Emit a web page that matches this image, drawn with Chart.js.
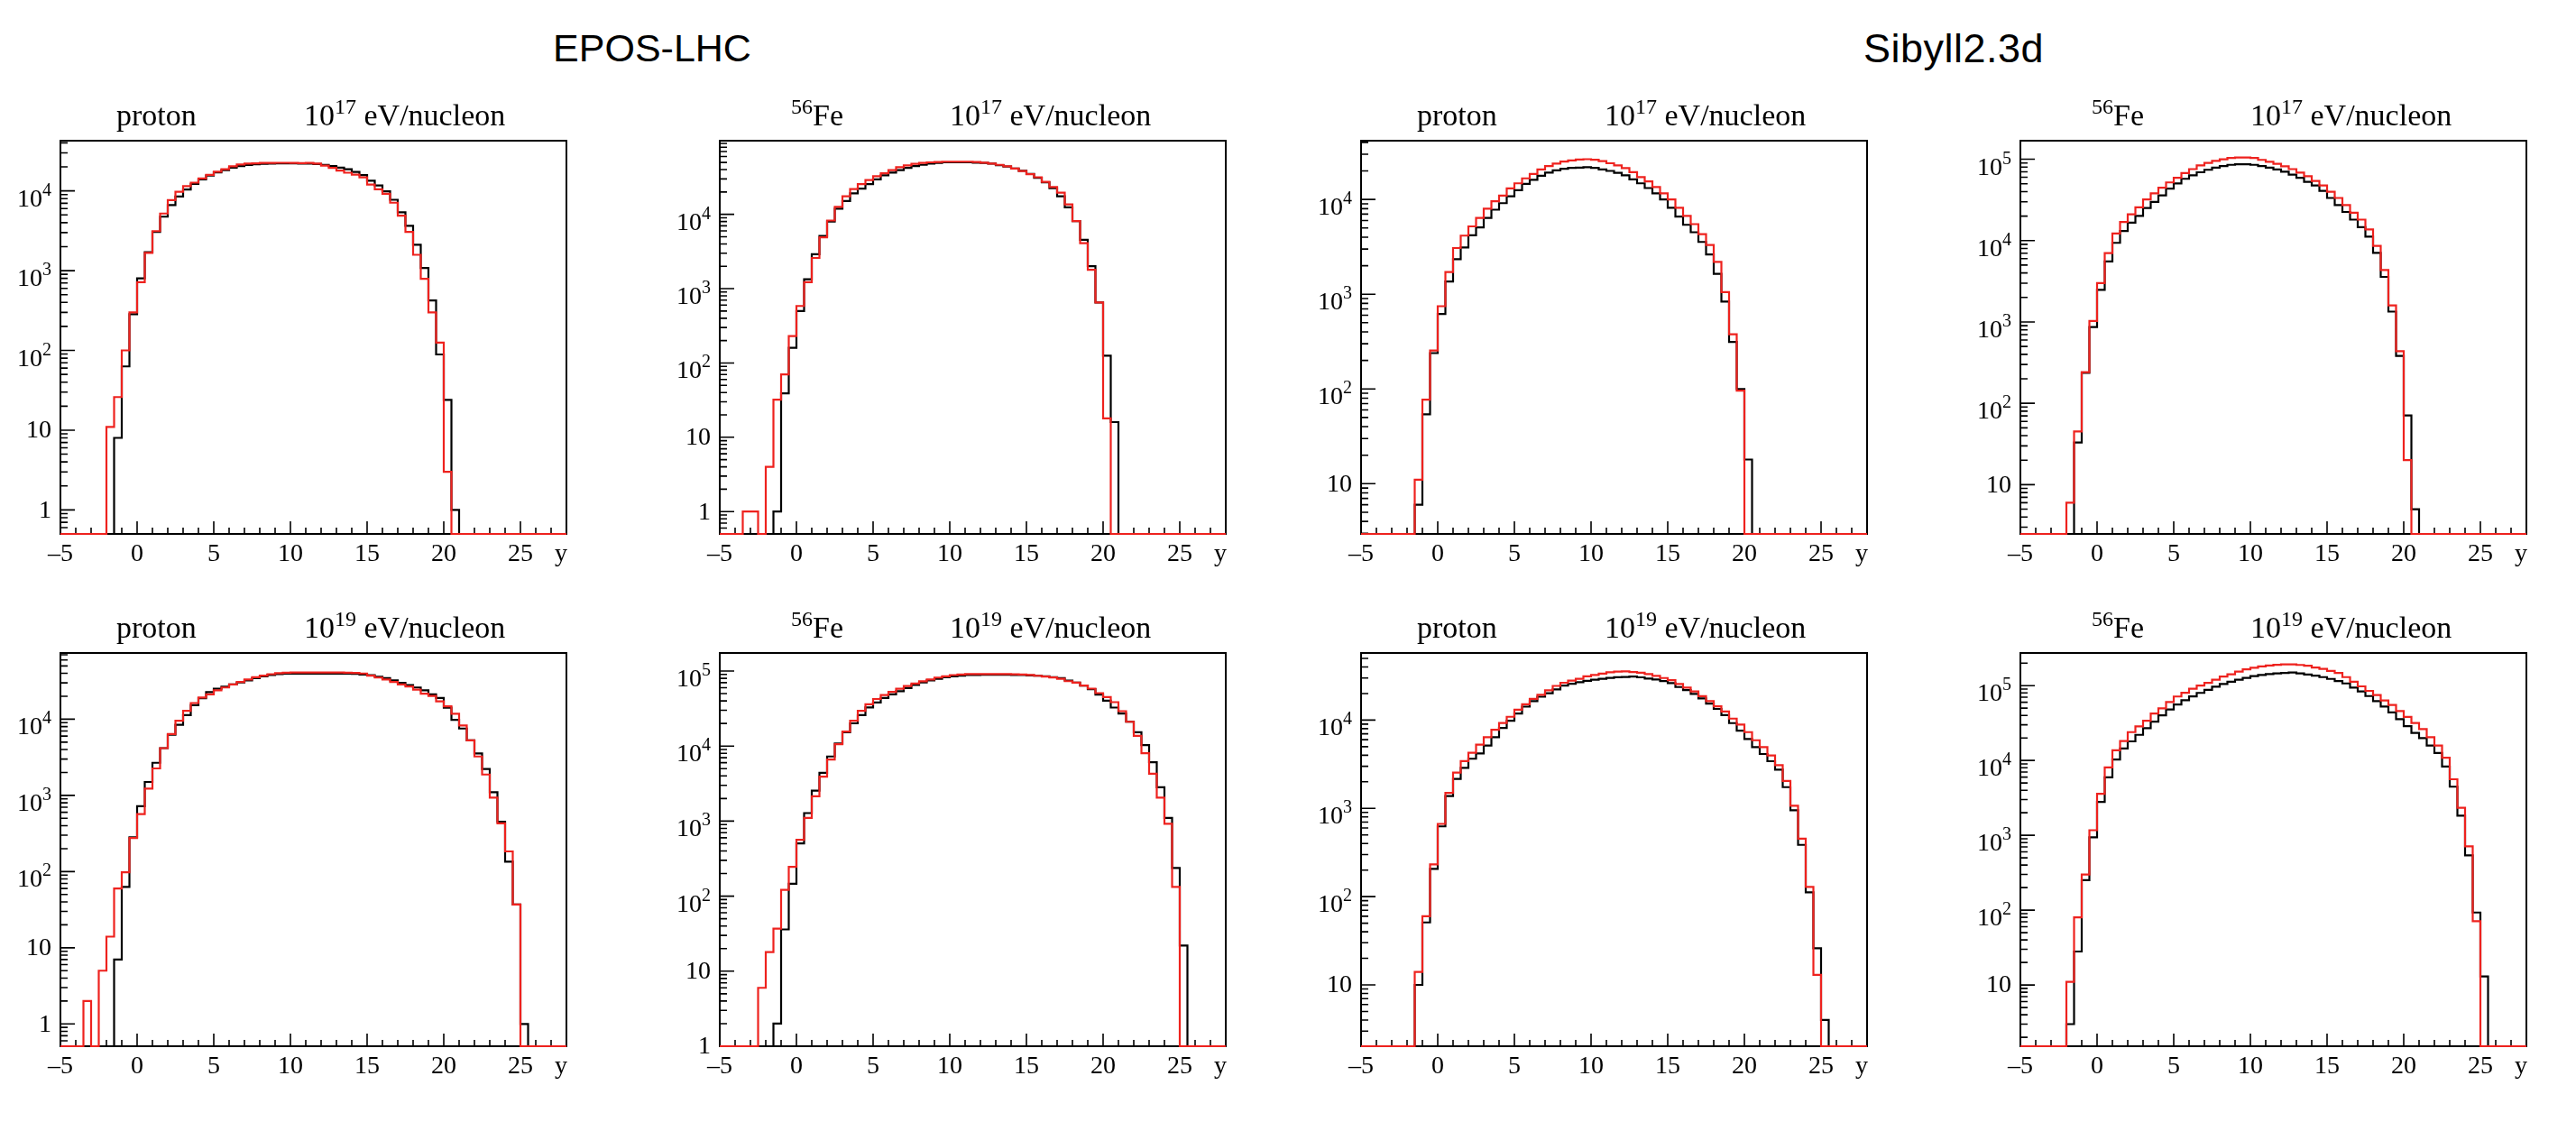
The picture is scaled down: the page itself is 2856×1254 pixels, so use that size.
<!DOCTYPE html>
<html>
<head>
<meta charset="utf-8">
<script src="https://cdn.jsdelivr.net/npm/chart.js@4.4.1/dist/chart.umd.min.js"></script>
<style>
html,body{margin:0;padding:0;background:#fff;}
body{width:2856px;height:1254px;position:relative;overflow:hidden;}
.hdr{position:absolute;font-family:"Liberation Sans",Arial,Helvetica,sans-serif;font-size:43px;color:#000;transform:translateX(-50%);white-space:nowrap;line-height:1;}
canvas{position:absolute;}
</style>
</head>
<body>
<div class="hdr" style="left:723px;top:32px">EPOS-LHC</div>
<div class="hdr" style="left:2166px;top:31px;font-size:45px;letter-spacing:0.5px">Sibyll2.3d</div>
<script>
// ---------------- DATA ----------------
// bin edges of rapidity y (66 bins of width 0.5 from -5 to 28)
const binEdges = [-5,-4.5,-4,-3.5,-3,-2.5,-2,-1.5,-1,-0.5,0,0.5,1,1.5,2,2.5,3,3.5,4,4.5,5,5.5,6,6.5,7,7.5,8,8.5,9,9.5,10,10.5,11,11.5,12,12.5,13,13.5,14,14.5,15,15.5,16,16.5,17,17.5,18,18.5,19,19.5,20,20.5,21,21.5,22,22.5,23,23.5,24,24.5,25,25.5,26,26.5,27,27.5,28];
const xTickLabels = [-5,0,5,10,15,20,25];

// EPOS-LHC, proton, 1e17 eV/nucleon
const eposP17Black = [0,0,0,0,0,0,0,8,63,285,800,1700,3050,4750,6650,8500,10400,12200,13900,15600,17100,18200,19500,20500,21200,21600,21900,22000,22100,22100,22100,22000,22000,21700,21200,20500,19600,18700,17300,15800,13400,11700,9900,7740,5380,3640,2110,1080,424,89,24,1,0,0,0,0,0,0,0,0,0,0,0,0,0,0];
const eposP17Red   = [0,0,0,0,0,0,11,26,100,300,715,1670,3130,5200,7650,9750,11500,12700,14300,15900,17400,18700,20300,21400,22000,22200,22400,22400,22500,22500,22400,22300,22400,22000,20800,19400,18000,16900,16000,14800,12000,10500,9220,7110,4900,3060,1580,791,299,125,3,0,0,0,0,0,0,0,0,0,0,0,0,0,0,0];
// EPOS-LHC, 56Fe, 1e17 eV/nucleon
const eposFe17Black = [0,0,0,0,0,0,0,1,39,160,500,1340,2900,5110,8020,11900,15100,19200,22200,25600,29500,33500,36500,39400,42200,44700,46400,48300,49200,50100,50100,50100,50100,49600,49200,48300,46000,44000,41500,38500,35000,31000,27000,22500,17500,12400,8100,4550,2010,650,125,16,0,0,0,0,0,0,0,0,0,0,0,0,0,0];
const eposFe17Red   = [0,0,0,1,1,0,4,32,70,230,585,1220,2590,4920,8260,12600,17500,21900,25600,29000,32600,35800,39400,43000,45600,47800,49200,50100,50600,51200,51200,51200,51200,50600,49600,48300,46400,44300,41400,38300,34800,31600,27400,23300,19600,13600,8100,4100,1790,650,18,0,0,0,0,0,0,0,0,0,0,0,0,0,0,0];
// Sibyll2.3d, proton, 1e17 eV/nucleon
const sibP17Black = [0,0,0,0,0,0,0,6,54,239,618,1360,2340,3110,4180,5080,6370,7800,9140,10800,12500,14600,16100,17800,19200,20300,21100,21500,21700,21900,21500,20700,20000,19100,18000,16300,14800,13200,11600,10000,8170,6610,5400,4510,3560,2630,1640,836,314,100,18,0,0,0,0,0,0,0,0,0,0,0,0,0,0,0];
const sibP17Red   = [0,0,0,0,0,0,0,11,77,254,747,1710,3070,4150,5200,6370,7980,9560,11000,13100,14800,16700,18600,20700,22500,23900,25100,25800,26400,26600,26200,25400,24100,22900,21400,19400,17200,15500,13500,11600,10000,8170,6710,5490,4300,3310,2190,1050,378,96,0,0,0,0,0,0,0,0,0,0,0,0,0,0,0,0];
// Sibyll2.3d, 56Fe, 1e17 eV/nucleon
const sibFe17Black = [0,0,0,0,0,0,0,33,237,865,2480,5550,9380,13100,16600,20100,25100,29900,35900,43500,50500,57500,63400,69200,74200,78900,82500,85400,86900,86900,85400,82500,78900,74800,70400,64600,59100,52800,47500,40900,33400,27300,22500,18100,14600,11200,7080,3580,1340,383,71,5,0,0,0,0,0,0,0,0,0,0,0,0,0,0];
const sibFe17Red   = [0,0,0,0,0,0,6,45,241,1030,3000,7030,12200,16900,21000,25700,32000,38100,44700,51900,59100,67500,75600,84000,90000,95700,100000,103600,105000,105000,103600,98300,93200,87700,81700,75600,68600,61700,54200,47500,39900,33400,27300,22000,18100,13700,8590,4340,1600,437,20,0,0,0,0,0,0,0,0,0,0,0,0,0,0,0];
// EPOS-LHC, proton, 1e19 eV/nucleon
const eposP19Black = [0,0,0,0,0,0,0,7,63,281,720,1500,2680,4170,6250,8450,11300,15300,18900,22700,25100,26800,28600,30300,32400,34600,36600,38000,39000,39600,39600,39600,39600,39600,39600,39600,39600,39600,39400,38700,37800,36200,34600,32400,30000,28100,26100,24000,21200,19000,14200,9800,7550,5270,3560,2220,1100,450,135,37,1,0,0,0,0,0];
const eposP19Red   = [0,0,0,2,0,5,14,60,98,276,569,1230,2260,4170,6370,9540,12900,16300,19300,21200,24000,26100,28600,30900,33300,35600,37300,39000,40300,40800,41000,41000,41000,41000,41000,41000,41000,40800,40500,39800,37300,35200,33300,30900,28600,26900,24400,21600,20200,17200,14800,11800,8280,5270,3240,1880,936,430,184,37,0,0,0,0,0,0];
// EPOS-LHC, 56Fe, 1e19 eV/nucleon
const eposFe19Black = [0,0,0,0,0,0,0,2,36,146,504,1280,2550,4390,7270,10800,15300,20100,25800,32800,38200,43700,48900,53800,59200,65200,70300,75100,78800,82600,85000,86700,88300,88800,89000,89000,89000,89000,88800,88300,87500,86500,85000,83000,80400,74800,70000,63900,57200,48500,40300,32600,27100,21100,15300,10300,6080,2830,1100,237,22,0,0,0,0,0];
const eposFe19Red   = [0,0,0,0,0,6,18,37,121,246,565,1100,2140,3910,6600,10600,15600,21800,29500,36100,42400,48000,52800,58100,63300,68200,73000,77300,81800,85000,88300,90000,90900,90900,90900,90900,90900,90900,90500,90000,88500,86500,84500,82000,79000,73300,70000,63900,58300,50800,45000,38500,29200,21100,13700,8020,4290,2050,920,133,0,0,0,0,0,0];
// Sibyll2.3d, proton, 1e19 eV/nucleon
const sibP19Black = [0,0,0,0,0,0,0,10,51,206,625,1380,2160,2870,3650,4200,5140,6400,8160,9840,11900,14200,16400,18400,20200,22300,24600,25800,26900,27800,28700,29400,30100,30600,30800,31200,30500,29600,28900,27700,26300,23700,21900,19800,17600,15400,13400,11400,9250,7600,6110,4940,4130,3420,2750,1740,953,386,112,26,4,0,0,0,0,0];
const sibP19Red   = [0,0,0,0,0,0,0,14,60,232,667,1500,2540,3430,4270,5270,6400,7770,9290,10900,13100,15100,17400,19300,21800,24400,26500,28000,29400,31400,32400,33700,34800,35400,35700,35100,34500,33200,31700,30000,28400,25700,23400,21100,18700,16400,14300,12500,10400,8910,7310,5910,4940,3970,3090,2050,1070,453,129,13,0,0,0,0,0,0];
// Sibyll2.3d, 56Fe, 1e19 eV/nucleon
const sibFe19Black = [0,0,0,0,0,0,3,28,251,940,2800,5950,10300,14500,18000,22000,27000,33000,40000,48000,56000,64000,72000,80000,88000,97000,105000,113000,120000,127000,134000,139000,143000,146000,148000,150000,146000,141000,136000,130000,123000,115000,107000,94300,83500,72600,62200,52600,43800,35700,28800,23300,19900,15800,12600,8280,4460,1830,541,93,13,0,0,0,0,0];
const sibFe19Red   = [0,0,0,0,0,0,11,80,299,1170,3580,8080,13700,18200,23900,28600,34000,42300,49800,60300,71600,80200,90800,100000,109000,120000,132000,142000,154000,165000,173000,181000,186000,190000,192000,192000,189000,184000,175000,167000,157000,148000,130000,113000,97800,85100,74700,63300,55100,45800,38100,31600,26300,20500,15800,10900,5610,2330,713,71,0,0,0,0,0,0];

// panel descriptions (row-major: top row 1e17, bottom row 1e19)
const panelBlack = [eposP17Black, eposFe17Black, sibP17Black, sibFe17Black, eposP19Black, eposFe19Black, sibP19Black, sibFe19Black];
const panelRed   = [eposP17Red,   eposFe17Red,   sibP17Red,   sibFe17Red,   eposP19Red,   eposFe19Red,   sibP19Red,   sibFe19Red];
const panelParticle = ['proton','Fe','proton','Fe','proton','Fe','proton','Fe'];
const panelEnergyExp = ['17','17','17','17','19','19','19','19'];
const panelYMin = [0.5, 0.5, 2.95, 2.48, 0.51, 1, 2.02, 1.52];
const panelYMax = [42600, 98000, 41700, 169000, 74000, 174000, 57600, 273000];

// ---------------- LAYOUT / STYLE ----------------
const FRAME_LEFT = [67, 798, 1509, 2240];
const FRAME_TOP = [156, 724];
const FRAME_W = 561, FRAME_H = 436;
const PAD = {left: 66, top: 90, right: 45, bottom: 50};
const SERIF = '"Liberation Serif","Times New Roman",Times,serif';
const RED = 'rgb(238,34,30)';

function histPoints(vals, ymin) {
  const pts = [];
  for (let i = 0; i < vals.length; i++) {
    pts.push({x: binEdges[i], y: vals[i] > 0 ? vals[i] : ymin});
  }
  const last = vals[vals.length - 1];
  pts.push({x: binEdges[binEdges.length - 1], y: last > 0 ? last : ymin});
  return pts;
}

const rootStyle = {
  id: 'rootStyle',
  beforeDatasetsDraw(chart, args, opts) {
    const ctx = chart.ctx, a = chart.chartArea;
    const xs = chart.scales.x, ys = chart.scales.y;
    ctx.save();
    ctx.fillStyle = '#000';
    ctx.strokeStyle = '#000';
    // frame
    ctx.lineWidth = 2;
    ctx.strokeRect(a.left, a.top, a.right - a.left, a.bottom - a.top);
    // ticks
    ctx.lineWidth = 1.6;
    ctx.beginPath();
    for (let v = Math.ceil(xs.min); v <= xs.max; v++) {
      const px = xs.getPixelForValue(v);
      const len = (v % 5 === 0) ? 14 : 7;
      ctx.moveTo(px, a.bottom);
      ctx.lineTo(px, a.bottom - len);
    }
    const lo = Math.floor(Math.log10(ys.min)), hi = Math.ceil(Math.log10(ys.max));
    for (let e = lo; e <= hi; e++) {
      for (let m = 1; m <= 9; m++) {
        const val = m * Math.pow(10, e);
        if (val < ys.min * 0.9999 || val > ys.max) continue;
        const py = ys.getPixelForValue(val);
        const len = m === 1 ? 16 : 8;
        ctx.moveTo(a.left, py);
        ctx.lineTo(a.left + len, py);
      }
    }
    ctx.stroke();
    // x tick labels
    ctx.font = '28px ' + SERIF;
    ctx.textAlign = 'center';
    ctx.textBaseline = 'alphabetic';
    xTickLabels.forEach(v => {
      const txt = v < 0 ? '\u2013' + Math.abs(v) : String(v);
      ctx.fillText(txt, xs.getPixelForValue(v), a.bottom + 30);
    });
    // x axis title
    ctx.textAlign = 'right';
    ctx.fillText('y', a.right + 1, a.bottom + 30);
    // y tick labels
    for (let e = lo; e <= hi; e++) {
      const val = Math.pow(10, e);
      if (val < ys.min * 0.9999 || val > ys.max) continue;
      const py = ys.getPixelForValue(val);
      const xr = a.left - 10;
      ctx.textAlign = 'right';
      if (e === 0 || e === 1) {
        ctx.font = '28px ' + SERIF;
        ctx.textBaseline = 'middle';
        ctx.fillText(e === 0 ? '1' : '10', xr, py + 1);
      } else {
        ctx.textBaseline = 'alphabetic';
        ctx.font = '20px ' + SERIF;
        const sup = String(e);
        const sw = ctx.measureText(sup).width;
        ctx.fillText(sup, xr, py + 5);
        ctx.font = '28px ' + SERIF;
        ctx.fillText('10', xr - sw, py + 17);
      }
    }
    // panel title
    const o = opts;
    const base = a.top - 17;
    ctx.textAlign = 'left';
    ctx.textBaseline = 'alphabetic';
    if (o.particle === 'proton') {
      ctx.font = '34px ' + SERIF;
      ctx.fillText('proton', a.left + 62, base);
    } else {
      ctx.font = '24px ' + SERIF;
      ctx.fillText('56', a.left + 79, base - 13);
      const w56 = ctx.measureText('56').width;
      ctx.font = '34px ' + SERIF;
      ctx.fillText('Fe', a.left + 79 + w56, base);
    }
    let x0 = a.left + (o.particle === 'proton' ? 270 : 255);
    ctx.font = '34px ' + SERIF;
    ctx.fillText('10', x0, base);
    x0 += ctx.measureText('10').width;
    ctx.font = '24px ' + SERIF;
    ctx.fillText(o.energyExp, x0, base - 13);
    x0 += ctx.measureText(o.energyExp).width;
    ctx.font = '34px ' + SERIF;
    ctx.fillText(' eV/nucleon', x0, base);
    ctx.restore();
  }
};

for (let i = 0; i < 8; i++) {
  const col = i % 4, row = Math.floor(i / 4);
  const cv = document.createElement('canvas');
  const W = FRAME_W + PAD.left + PAD.right, H = FRAME_H + PAD.top + PAD.bottom;
  cv.width = W; cv.height = H;
  cv.style.width = W + 'px'; cv.style.height = H + 'px';
  cv.style.left = (FRAME_LEFT[col] - PAD.left) + 'px';
  cv.style.top = (FRAME_TOP[row] - PAD.top) + 'px';
  document.body.appendChild(cv);
  const ymin = panelYMin[i];
  new Chart(cv, {
    type: 'line',
    data: {
      datasets: [
        {label: 'red', data: histPoints(panelRed[i], ymin), borderColor: RED, borderWidth: 2.2,
         stepped: 'before', pointRadius: 0, fill: false, order: 0, clip: 4,
         borderJoinStyle: 'miter', borderCapStyle: 'butt'},
        {label: 'black', data: histPoints(panelBlack[i], ymin), borderColor: '#000', borderWidth: 2.2,
         stepped: 'before', pointRadius: 0, fill: false, order: 1, clip: 4,
         borderJoinStyle: 'miter', borderCapStyle: 'butt'}
      ]
    },
    options: {
      responsive: false,
      animation: false,
      devicePixelRatio: 1,
      events: [],
      layout: {padding: PAD},
      plugins: {
        legend: {display: false},
        tooltip: {enabled: false},
        rootStyle: {particle: panelParticle[i], energyExp: panelEnergyExp[i]}
      },
      scales: {
        x: {type: 'linear', min: binEdges[0], max: binEdges[binEdges.length - 1], display: false},
        y: {type: 'logarithmic', min: ymin, max: panelYMax[i], display: false}
      }
    },
    plugins: [rootStyle]
  });
}
</script>
</body>
</html>
